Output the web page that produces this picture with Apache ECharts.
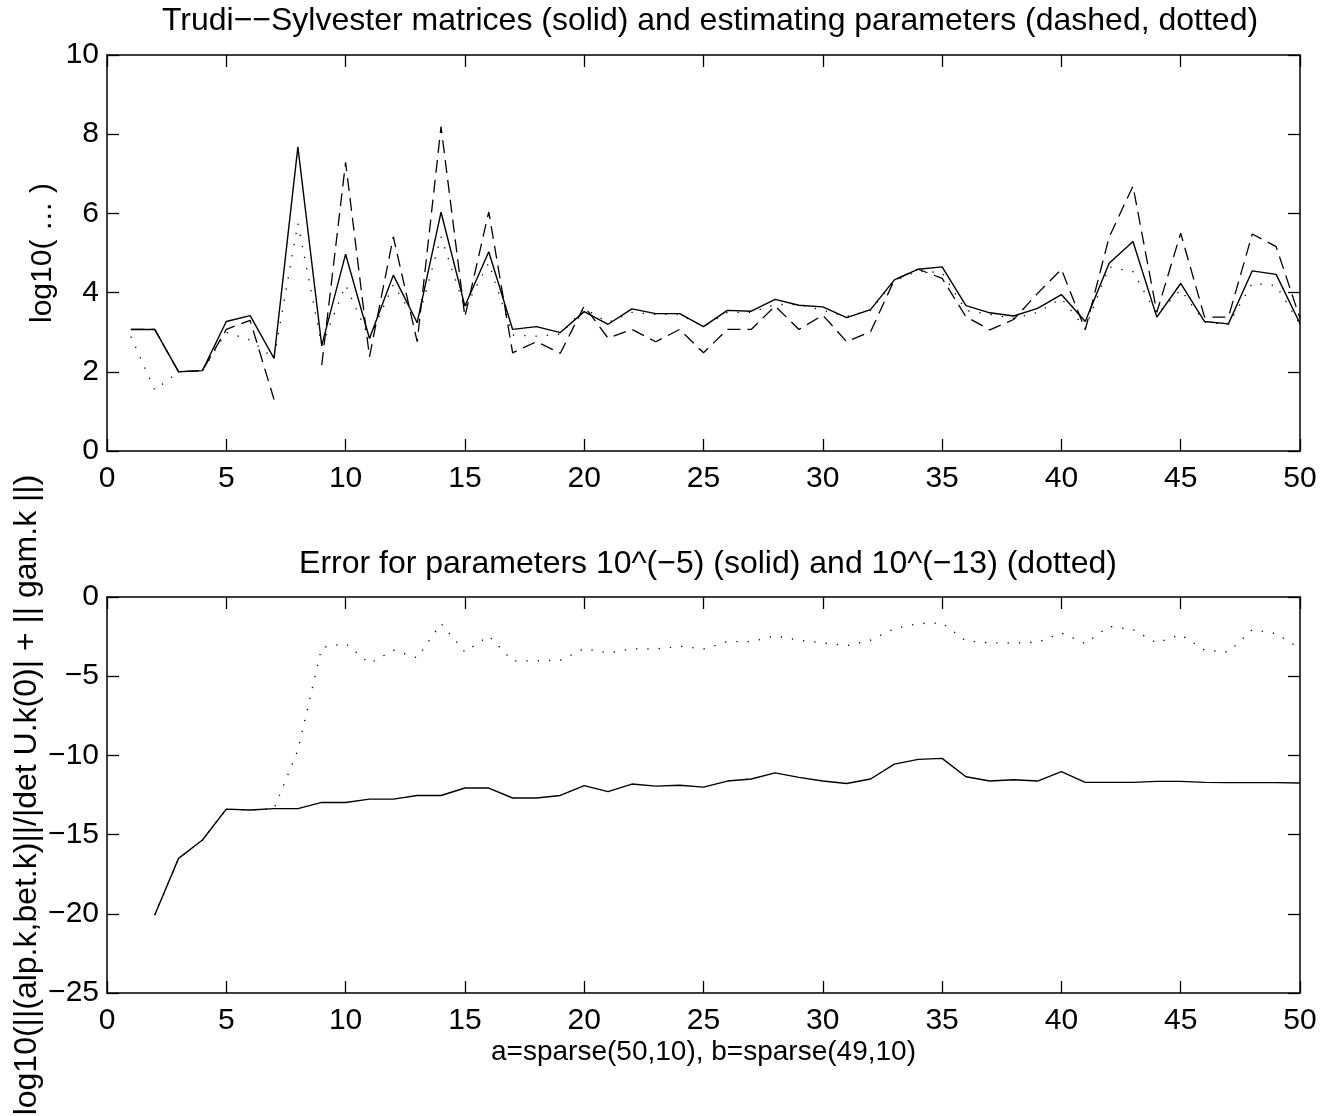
<!DOCTYPE html>
<html>
<head>
<meta charset="utf-8">
<script src="https://cdn.jsdelivr.net/npm/echarts@6/dist/echarts.min.js"></script>
<style>
  html, body { margin: 0; padding: 0; background: #fff; }
  #chart { width: 1326px; height: 1116px; }
</style>
</head>
<body>
<div id="chart"></div>
<script>
// k = 1..50
const ks = [];
for (let k = 1; k <= 50; k++) ks.push(k);

// top panel: Trudi--Sylvester matrices (solid), estimating parameters (dashed, dotted)
const topSolid = [3.07, 3.07, 2.0, 2.03, 3.27, 3.42, 2.34, 7.68, 2.66, 4.97,
  2.84, 4.44, 3.24, 6.03, 3.66, 5.03, 3.07, 3.14, 2.99, 3.52,
  3.2, 3.59, 3.47, 3.47, 3.14, 3.55, 3.53, 3.83, 3.68, 3.64,
  3.37, 3.57, 4.32, 4.59, 4.65, 3.67, 3.49, 3.41, 3.6, 3.95,
  3.27, 4.74, 5.29, 3.38, 4.23, 3.27, 3.21, 4.55, 4.46, 3.22];
const topDashed = [3.07, 3.07, 2.0, 2.03, 3.07, 3.3, 1.3, null, 2.17, 7.29,
  2.38, 5.41, 2.76, 8.19, 3.39, 6.04, 2.48, 2.76, 2.47, 3.66,
  2.85, 3.07, 2.76, 3.07, 2.48, 3.07, 3.07, 3.66, 3.07, 3.43,
  2.76, 3.01, 4.32, 4.59, 4.36, 3.39, 3.06, 3.32, 3.98, 4.59,
  3.06, 5.4, 6.69, 3.5, 5.5, 3.38, 3.38, 5.48, 5.16, 3.35];
const topDotted = [2.89, 1.54, 2.0, 2.03, 3.0, 2.8, 2.34, 5.75, 2.66, 4.19,
  2.84, 4.2, 3.24, 5.41, 3.6, 4.75, 2.93, 2.9, 2.95, 3.6,
  3.25, 3.5, 3.45, 3.45, 3.14, 3.5, 3.5, 3.7, 3.7, 3.55,
  3.4, 3.55, 4.3, 4.55, 4.5, 3.55, 3.45, 3.35, 3.5, 3.85,
  3.1, 4.65, 4.53, 3.45, 4.07, 3.25, 3.2, 4.23, 4.18, 3.2];

// bottom panel: error for parameters 1e-5 (solid) and 1e-13 (dotted)
const errSolid = [null, -20.07, -16.5, -15.34, -13.39, -13.45, -13.36, -13.36, -12.97, -12.97,
  -12.76, -12.76, -12.53, -12.53, -12.06, -12.06, -12.69, -12.69, -12.53, -11.91,
  -12.29, -11.81, -11.94, -11.88, -12.0, -11.62, -11.49, -11.1, -11.39, -11.62,
  -11.77, -11.49, -10.55, -10.25, -10.19, -11.35, -11.62, -11.54, -11.62, -11.03,
  -11.7, -11.7, -11.7, -11.64, -11.64, -11.7, -11.72, -11.72, -11.72, -11.74];
const errDotted = [null, -20.07, -16.5, -15.34, -13.39, -13.45, -13.36, -9.67, -3.19, -2.94,
  -4.2, -3.36, -3.84, -1.68, -3.47, -2.46, -4.03, -4.03, -3.99, -3.26,
  -3.53, -3.28, -3.28, -3.11, -3.28, -2.82, -2.82, -2.46, -2.73, -2.9,
  -3.07, -2.73, -1.99, -1.68, -1.64, -2.77, -2.9, -2.9, -2.86, -2.27,
  -2.94, -1.85, -2.06, -2.9, -2.37, -3.36, -3.47, -2.06, -2.31, -3.26];

const FONT = '"Liberation Sans", Arial, Helvetica, sans-serif';
const minus = v => String(v).replace('-', '\u2212');
const pairs = ys => ks.map((k, i) => [k, ys[i]]);

const chart = echarts.init(document.getElementById('chart'), null, { renderer: 'canvas' });

const axisLine = () => ({ show: true, onZero: false, lineStyle: { color: '#000', width: 1.5 } });
const tick = () => ({ show: true, inside: true, length: 12, lineStyle: { color: '#000', width: 1.3 } });
const label = margin => ({ show: true, margin, color: '#000', fontFamily: FONT, fontSize: 30, formatter: minus });

function xAxes(grid) {
  return [
    { gridIndex: grid, type: 'value', min: 0, max: 50, interval: 5, position: 'bottom',
      axisLine: axisLine(), axisTick: tick(), axisLabel: label(13), splitLine: { show: false } },
    { gridIndex: grid, type: 'value', min: 0, max: 50, interval: 5, position: 'top',
      axisLine: axisLine(), axisTick: tick(), axisLabel: { show: false }, splitLine: { show: false } }
  ];
}
function yAxes(grid, min, max, interval) {
  return [
    { gridIndex: grid, type: 'value', min, max, interval, position: 'left',
      axisLine: axisLine(), axisTick: tick(), axisLabel: label(8), splitLine: { show: false } },
    { gridIndex: grid, type: 'value', min, max, interval, position: 'right',
      axisLine: axisLine(), axisTick: tick(), axisLabel: { show: false }, splitLine: { show: false } }
  ];
}

const xa = xAxes(0).concat(xAxes(1));
xa[2].name = 'a=sparse(50,10), b=sparse(49,10)';
xa[2].nameLocation = 'middle';
xa[2].nameGap = 45;
xa[2].nameMoveOverlap = false;
xa[2].nameTextStyle = { color: '#000', fontFamily: FONT, fontSize: 28 };

const ya = yAxes(0, 0, 10, 2).concat(yAxes(1, -25, 0, 5));
ya[0].name = 'log10( \u2026 )';
ya[0].nameLocation = 'middle';
ya[0].nameRotate = 90;
ya[0].nameGap = 49;
ya[0].nameMoveOverlap = false;
ya[0].nameTextStyle = { color: '#000', fontFamily: FONT, fontSize: 30 };
ya[2].name = 'log10(||(alp.k,bet.k)||/|det U.k(0)| + || gam.k ||)';
ya[2].nameLocation = 'middle';
ya[2].nameRotate = 90;
ya[2].nameGap = 64;
ya[2].nameMoveOverlap = false;
ya[2].nameTextStyle = { color: '#000', fontFamily: FONT, fontSize: 32 };

function line(xi, yi, ys, type) {
  return {
    type: 'line', xAxisIndex: xi, yAxisIndex: yi, data: pairs(ys),
    showSymbol: false, connectNulls: false, animation: false,
    lineStyle: { color: '#000', width: type === 'solid' ? 1.4 : 1.3, type, cap: 'butt' }
  };
}

const option = {
  animation: false,
  backgroundColor: '#fff',
  title: [
    { text: 'Trudi\u2212\u2212Sylvester matrices (solid) and estimating parameters (dashed, dotted)',
      left: 705, top: 0, textAlign: 'center',
      textStyle: { color: '#000', fontFamily: FONT, fontSize: 32, fontWeight: 'normal' } },
    { text: 'Error for parameters 10^(\u22125) (solid) and 10^(\u221213) (dotted)',
      left: 703, top: 543, textAlign: 'center',
      textStyle: { color: '#000', fontFamily: FONT, fontSize: 32, fontWeight: 'normal' } }
  ],
  grid: [
    { left: 107, top: 55, width: 1193, height: 396, outerBoundsMode: 'none', containLabel: false },
    { left: 107, top: 597, width: 1193, height: 396, outerBoundsMode: 'none', containLabel: false }
  ],
  xAxis: xa,
  yAxis: ya,
  series: [
    line(0, 0, topSolid, 'solid'),
    line(0, 0, topDashed, [13, 7]),
    line(0, 0, topDotted, [1.3, 10]),
    line(2, 2, errSolid, 'solid'),
    line(2, 2, errDotted, [1.3, 10])
  ]
};

chart.setOption(option);
</script>
</body>
</html>
